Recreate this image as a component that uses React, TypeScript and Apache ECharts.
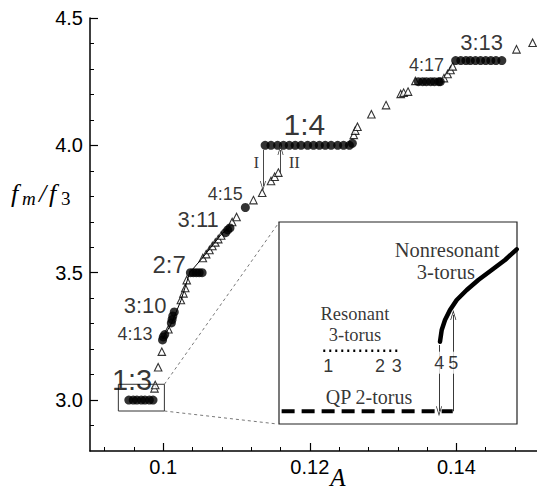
import React, { useEffect, useRef } from 'react';
import * as echarts from 'echarts';

// ---- axis ticks ----
const xMajorTicks = [0.1, 0.12, 0.14];
const xMinorTicks = [0.092, 0.096, 0.104, 0.108, 0.112, 0.116, 0.124, 0.128, 0.132, 0.136, 0.144, 0.148];
const yMajorTicks = [3.0, 3.5, 4.0, 4.5];
const yMinorTicks = [2.9, 3.1, 3.2, 3.3, 3.4, 3.6, 3.7, 3.8, 3.9, 4.1, 4.2, 4.3, 4.4];

// ---- quasiperiodic (triangles) ----
const triA = [0.0988, 0.0989, 0.0993, 0.0998, 0.1007, 0.1024, 0.10275, 0.1030, 0.1032,
  0.1054, 0.10585, 0.1063, 0.1067, 0.1071, 0.1075, 0.1079, 0.1094, 0.1100,
  0.1123, 0.1135, 0.1147, 0.1152, 0.1157,
  0.1260, 0.1262, 0.1265, 0.1284, 0.1304, 0.1324, 0.1328, 0.1334, 0.1344,
  0.1383, 0.1388, 0.1392, 0.1395, 0.1482, 0.1504];
const triF = [3.046, 3.059, 3.129, 3.190, 3.278, 3.393, 3.419, 3.440, 3.471,
  3.558, 3.573, 3.589, 3.605, 3.619, 3.632, 3.646, 3.699, 3.719,
  3.785, 3.814, 3.860, 3.877, 3.893,
  4.041, 4.058, 4.073, 4.122, 4.158, 4.202, 4.207, 4.211, 4.253,
  4.264, 4.280, 4.296, 4.310, 4.377, 4.403];

// ---- frequency-locked (filled circles) ----
const lockA = [0.0953, 0.0959, 0.0964, 0.0970, 0.0975, 0.0981, 0.0986,
  0.0999, 0.1000, 0.1002,
  0.1011, 0.1012, 0.1013, 0.1015,
  0.1037, 0.1041, 0.1045, 0.1049, 0.1053,
  0.1085, 0.1088, 0.1091,
  0.1112,
  0.1139, 0.1147, 0.1156, 0.1164, 0.1172, 0.1180, 0.1188, 0.1197, 0.1205, 0.1213, 0.1221, 0.1229, 0.1238, 0.1246, 0.1254, 0.1258,
  0.1348, 0.1354, 0.1359, 0.1365, 0.1370, 0.1376, 0.1378,
  0.1399, 0.1406, 0.1413, 0.1419, 0.1426, 0.1433, 0.1440, 0.1447, 0.1454, 0.1462];
const lockF = [3.0, 3.0, 3.0, 3.0, 3.0, 3.0, 3.0,
  3.236, 3.248, 3.257,
  3.303, 3.316, 3.330, 3.346,
  3.5, 3.5, 3.5, 3.5, 3.5,
  3.657, 3.668, 3.676,
  3.756,
  4.0, 4.0, 4.0, 4.0, 4.0, 4.0, 4.0, 4.0, 4.0, 4.0, 4.0, 4.0, 4.0, 4.0, 4.0, 4.008,
  4.25, 4.25, 4.25, 4.25, 4.25, 4.25, 4.25,
  4.333, 4.333, 4.333, 4.333, 4.333, 4.333, 4.333, 4.333, 4.333, 4.333];

// thin curve through the lower branch
const curveA = [0.0999, 0.1011, 0.1024, 0.1036, 0.1054, 0.1079, 0.1091];
const curveF = [3.24, 3.30, 3.39, 3.50, 3.56, 3.65, 3.68];

// zoom box and connectors (data coords)
const boxA = [0.09387, 0.10015, 0.10015, 0.09387, 0.09387];
const boxF = [2.957, 2.957, 3.062, 3.062, 2.957];
const connTopA = [0.10015, 0.11583];
const connTopF = [3.062, 3.699];
const connBotA = [0.10015, 0.11556];
const connBotF = [2.957, 2.906];

// arrows I and II
const arrowIA = [0.1136, 0.1136];
const arrowIF = [3.982, 3.840];
const arrowIIA = [0.1160, 0.1160];
const arrowIIF = [3.890, 3.982];

// ratio labels
const ratioText = ['1:3', '4:13', '3:10', '2:7', '3:11', '4:15', '1:4', '4:17', '3:13', 'I', 'II'];
const ratioA = [0.09574, 0.09615, 0.09752, 0.10080, 0.10476, 0.10845, 0.11925, 0.13592, 0.14344, 0.11269, 0.11788];
const ratioF = [3.079, 3.259, 3.373, 3.534, 3.707, 3.809, 4.080, 4.316, 4.402, 3.931, 3.931];
const ratioSize = [29, 18, 22, 24, 22, 18, 30, 18, 22, 17, 17];

// ---- inset (schematic, unit coordinates) ----
const nonresU = [0.6765, 0.6836, 0.6975, 0.7185, 0.7466, 0.7887, 0.8374, 0.8937, 0.9496, 0.9987];
const nonresV = [0.4074, 0.4653, 0.5149, 0.5644, 0.6139, 0.6634, 0.7129, 0.7624, 0.8119, 0.8649];
const resU = [0.186, 0.508];
const resV = [0.363, 0.363];
const qpU = [0.011, 0.730];
const qpV = [0.063, 0.063];
const arrow4U = [0.6723, 0.6723];
const arrow4V = [0.391, 0.063];
const arrow5U = [0.7324, 0.7324];
const arrow5V = [0.063, 0.540];
const insetText = ['Nonresonant', '3-torus', 'Resonant', '3-torus', 'QP 2-torus', '1', '2', '3', '4', '5'];
const insetU = [0.706, 0.701, 0.319, 0.319, 0.378, 0.207, 0.424, 0.4946, 0.6735, 0.7324];
const insetV = [0.862, 0.753, 0.545, 0.443, 0.135, 0.287, 0.287, 0.287, 0.3035, 0.3035];
const insetSize = [20.5, 20.5, 18.5, 18.5, 20, 18, 18, 18, 18, 18];
const insetSerif = [true, true, true, true, true, false, false, false, false, false];

const zip = (a: number[], b: number[]) => a.map((v, i) => [v, b[i]]);
const chevron = 'path://M0,12 L5,0 L10,12 L8.8,12 L5,3 L1.2,12 Z';
const SANS = '"Liberation Sans", Arial, sans-serif';
const SERIF = '"Liberation Serif", "Times New Roman", serif';

function arrowSeries(xi: number, yi: number, arrows: number[][][], color: string) {
  return {
    type: 'line', xAxisIndex: xi, yAxisIndex: yi,
    data: arrows[0], showSymbol: false, lineStyle: { opacity: 0 }, silent: true,
    markLine: {
      silent: true, animation: false,
      symbol: ['none', chevron], symbolSize: [6, 10],
      lineStyle: { color, width: 0.9, type: 'solid' },
      label: { show: false },
      data: arrows.map((a) => [{ coord: a[0] }, { coord: a[1] }]),
    },
  };
}

export default function App() {
  const ref = useRef<HTMLDivElement>(null);
  useEffect(() => {
    document.body.style.margin = '0';
    const chart = echarts.init(ref.current!, null, { renderer: 'svg' });
    const mathItalic = { fontFamily: SERIF, fontStyle: 'italic', fill: '#000', verticalAlign: 'bottom' };
    const option: any = {
      animation: false,
      grid: [
        { left: 90, top: 18, right: 0, bottom: 45 },
        { left: 279, top: 222, width: 238, height: 202, show: true, borderColor: '#222', borderWidth: 1.2, backgroundColor: '#fff' },
      ],
      xAxis: [
        {
          type: 'value', gridIndex: 0, min: 0.09, max: 0.151, position: 'bottom',
          axisLine: { show: true, onZero: false, lineStyle: { color: '#000', width: 1.5 } },
          axisTick: { show: true, inside: true, length: 8, customValues: xMajorTicks, lineStyle: { color: '#000', width: 1.2 } },
          axisLabel: { show: true, customValues: xMajorTicks, margin: 6, color: '#000', fontSize: 20, fontFamily: SANS, formatter: (v: number) => String(+v.toFixed(3)) },
          splitLine: { show: false },
        },
        {
          type: 'value', gridIndex: 0, min: 0.09, max: 0.151, position: 'bottom',
          axisLine: { show: false, onZero: false },
          axisTick: { show: true, inside: true, length: 4, customValues: xMinorTicks, lineStyle: { color: '#000', width: 1 } },
          axisLabel: { show: false }, splitLine: { show: false },
        },
        { type: 'value', gridIndex: 1, min: 0, max: 1, show: false },
      ],
      yAxis: [
        {
          type: 'value', gridIndex: 0, min: 2.8, max: 4.5, position: 'left',
          axisLine: { show: true, onZero: false, lineStyle: { color: '#000', width: 1.5 } },
          axisTick: { show: true, inside: true, length: 8, customValues: yMajorTicks, lineStyle: { color: '#000', width: 1.2 } },
          axisLabel: { show: true, customValues: yMajorTicks, margin: 7, color: '#000', fontSize: 20, fontFamily: SANS, formatter: (v: number) => v.toFixed(1) },
          splitLine: { show: false },
        },
        {
          type: 'value', gridIndex: 0, min: 2.8, max: 4.5, position: 'left',
          axisLine: { show: false, onZero: false },
          axisTick: { show: true, inside: true, length: 4, customValues: yMinorTicks, lineStyle: { color: '#000', width: 1 } },
          axisLabel: { show: false }, splitLine: { show: false },
        },
        { type: 'value', gridIndex: 1, min: 0, max: 1, show: false },
      ],
      graphic: [
        { type: 'text', x: 11, y: 206, style: { text: 'f', fontSize: 26, ...mathItalic } },
        { type: 'text', x: 22, y: 208, style: { text: 'm', fontSize: 19, ...mathItalic } },
        { type: 'text', x: 39, y: 206, style: { text: '/', fontSize: 26, ...mathItalic } },
        { type: 'text', x: 49, y: 206, style: { text: 'f', fontSize: 26, ...mathItalic } },
        { type: 'text', x: 61, y: 208, style: { text: '3', fontSize: 19, fontFamily: SERIF, fill: '#000', verticalAlign: 'bottom' } },
        {
          type: 'text', x: 338, y: 477,
          style: { text: 'A', fontFamily: SERIF, fontStyle: 'italic', fontSize: 25, fill: '#000', align: 'center', verticalAlign: 'middle' },
        },
      ],
      series: [
        {
          type: 'line', xAxisIndex: 0, yAxisIndex: 0, data: zip(boxA, boxF), showSymbol: false, silent: true,
          lineStyle: { color: '#333', width: 1 },
        },
        {
          type: 'line', xAxisIndex: 0, yAxisIndex: 0, data: zip(connTopA, connTopF), showSymbol: false, silent: true,
          lineStyle: { color: '#555', width: 0.8, type: [3, 3] },
        },
        {
          type: 'line', xAxisIndex: 0, yAxisIndex: 0, data: zip(connBotA, connBotF), showSymbol: false, silent: true,
          lineStyle: { color: '#555', width: 0.8, type: [3, 3] },
        },
        {
          type: 'line', xAxisIndex: 0, yAxisIndex: 0, data: zip(curveA, curveF), showSymbol: false, silent: true,
          lineStyle: { color: '#000', width: 1 },
        },
        {
          type: 'scatter', xAxisIndex: 0, yAxisIndex: 0, data: zip(triA, triF),
          symbol: 'triangle', symbolSize: 7.5,
          itemStyle: { color: '#fff', borderColor: '#000', borderWidth: 1.1 },
        },
        {
          type: 'scatter', xAxisIndex: 0, yAxisIndex: 0, data: zip(lockA, lockF),
          symbol: 'circle', symbolSize: 9,
          itemStyle: { color: '#000' },
        },
        arrowSeries(0, 0, [zip(arrowIA, arrowIF), zip(arrowIIA, arrowIIF)], '#333'),
        {
          type: 'scatter', xAxisIndex: 0, yAxisIndex: 0, symbolSize: 0, silent: true,
          data: ratioText.map((t, i) => ({
            value: [ratioA[i], ratioF[i]], name: t,
            label: {
              show: true, position: 'inside', formatter: t, color: '#000',
              fontSize: ratioSize[i], fontFamily: t === 'I' || t === 'II' ? SERIF : SANS,
            },
          })),
          z: 5,
        },
        // inset
        {
          type: 'line', xAxisIndex: 2, yAxisIndex: 2, data: zip(qpU, qpV), showSymbol: false, silent: true,
          lineStyle: { color: '#000', width: 4, type: [13, 7], cap: 'butt' }, z: 3,
        },
        {
          type: 'line', xAxisIndex: 2, yAxisIndex: 2, data: zip(resU, resV), showSymbol: false, silent: true,
          lineStyle: { color: '#000', width: 2.5, type: [2, 4], cap: 'butt' }, z: 3,
        },
        {
          type: 'line', xAxisIndex: 2, yAxisIndex: 2, data: zip(nonresU, nonresV), showSymbol: false, silent: true,
          smooth: false, lineStyle: { color: '#000', width: 4.5, join: 'round', cap: 'round' }, z: 3,
        },
        Object.assign(arrowSeries(2, 2, [zip(arrow4U, arrow4V), zip(arrow5U, arrow5V)], '#222'), { z: 3 }),
        {
          type: 'scatter', xAxisIndex: 2, yAxisIndex: 2, symbolSize: 0, silent: true, z: 6,
          data: insetText.map((t, i) => ({
            value: [insetU[i], insetV[i]], name: t,
            label: {
              show: true, position: 'inside', formatter: t, color: '#000',
              fontSize: insetSize[i], fontFamily: insetSerif[i] ? SERIF : SANS,
              lineHeight: insetSerif[i] ? 18 : 20,
              backgroundColor: insetSerif[i] ? 'transparent' : '#fff', padding: insetSerif[i] ? 0 : [1, 1],
            },
          })),
        },
      ],
    };
    chart.setOption(option);
    return () => chart.dispose();
  }, []);
  return <div ref={ref} style={{ width: 537, height: 496 }} />;
}
